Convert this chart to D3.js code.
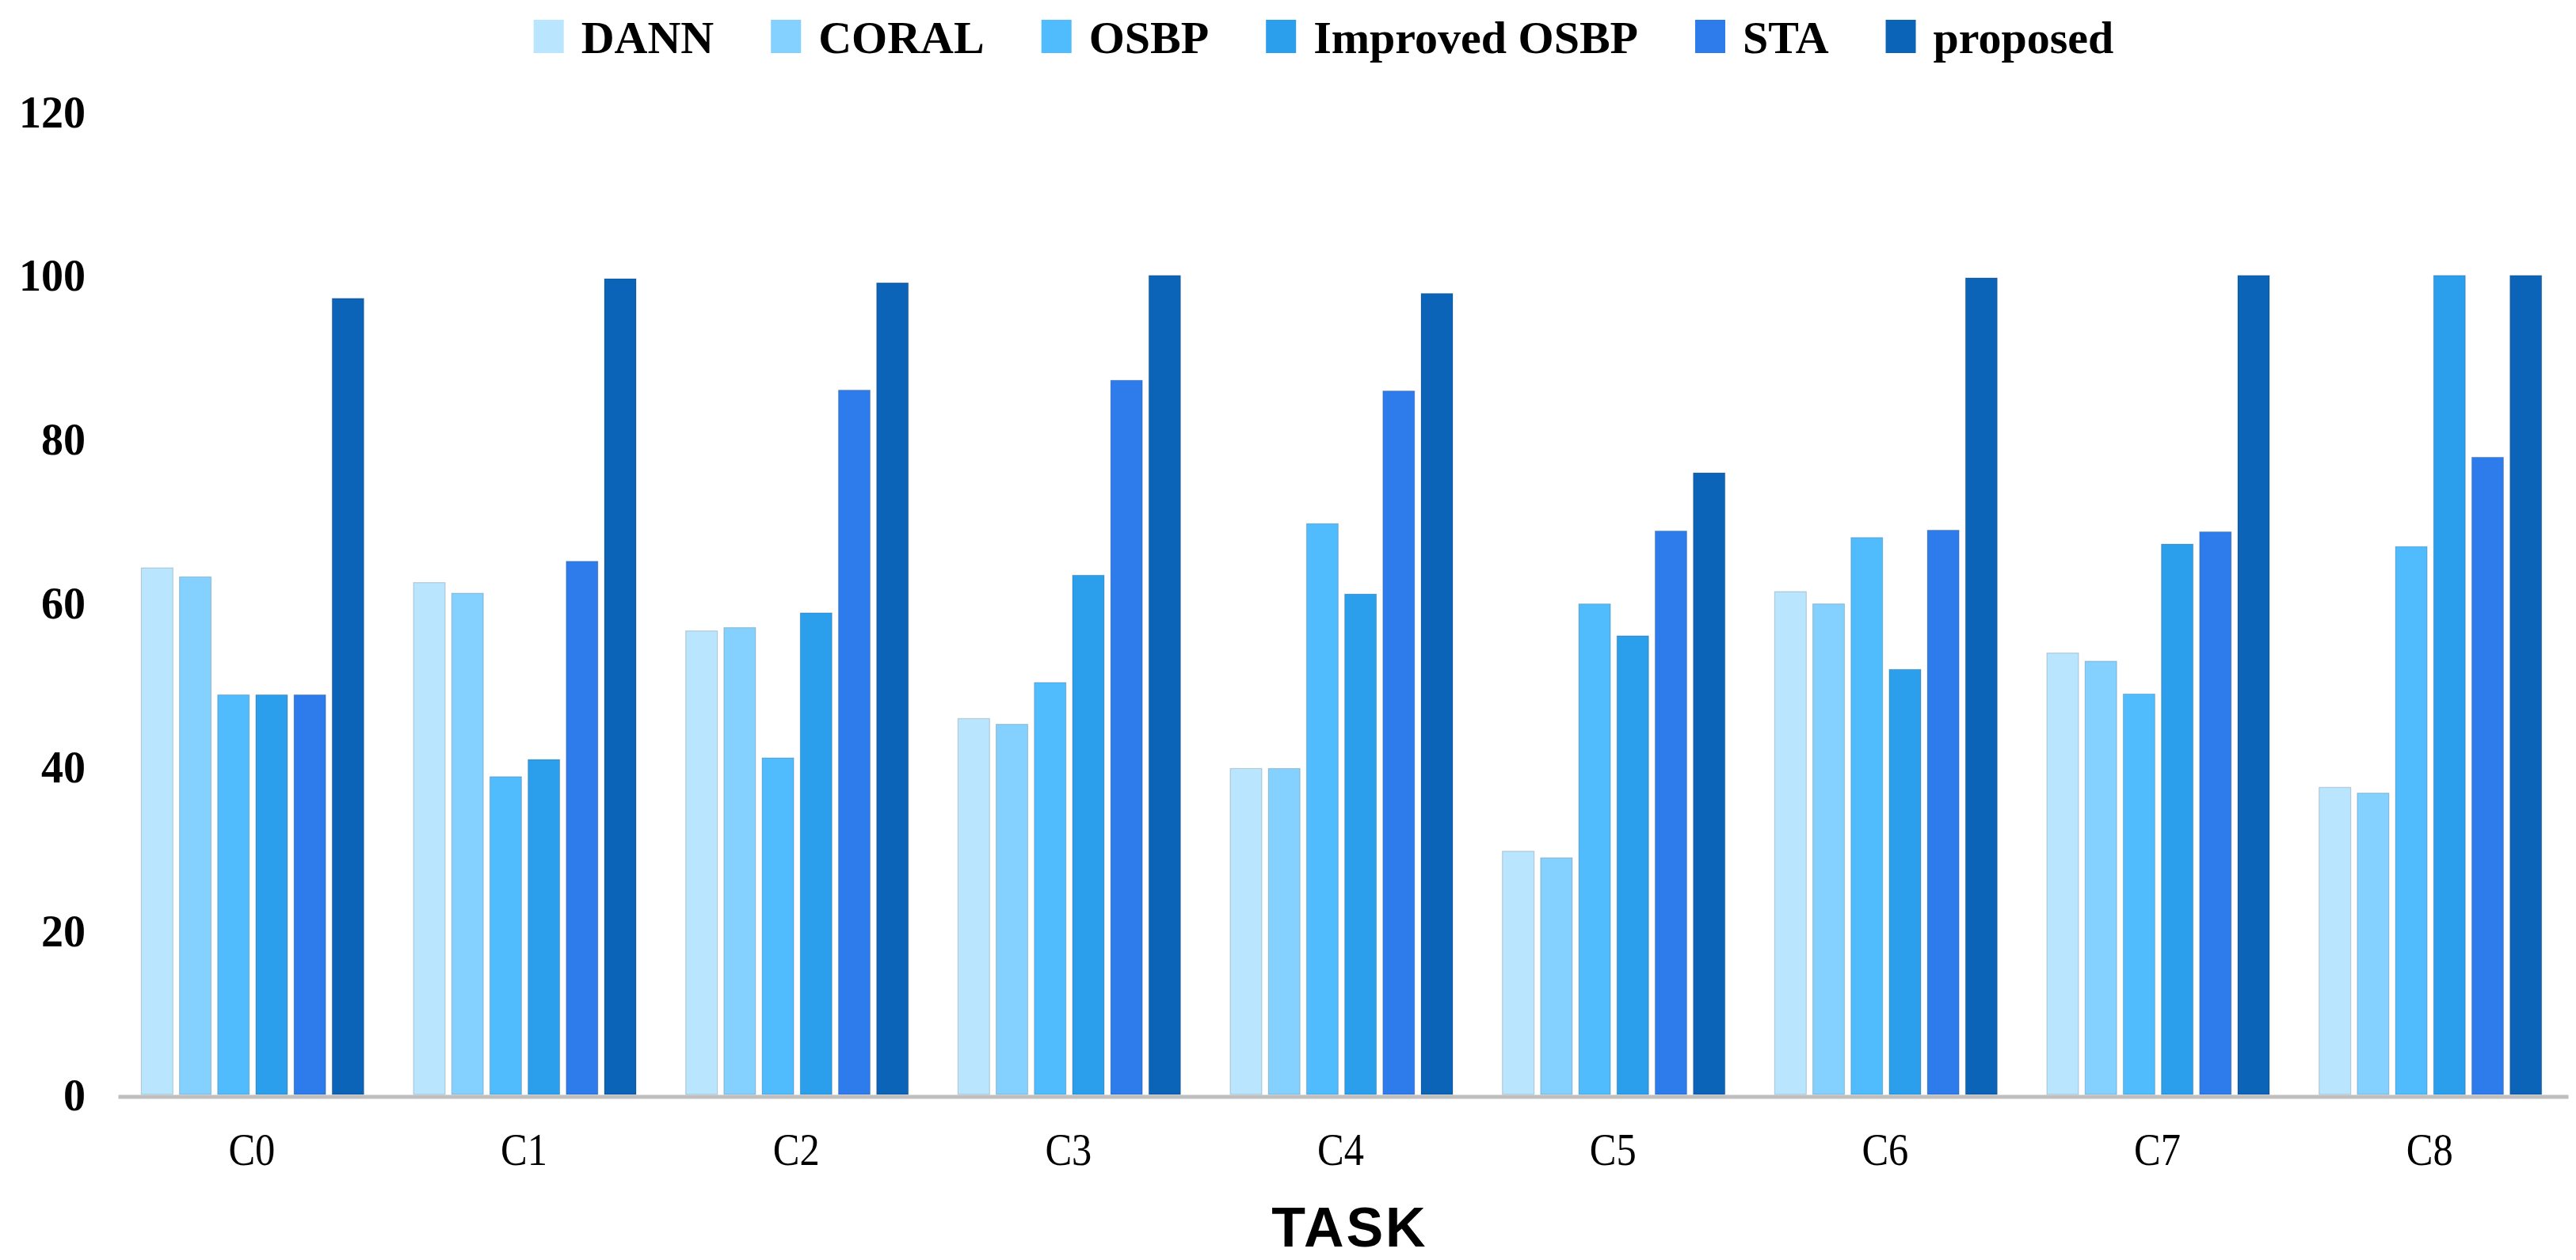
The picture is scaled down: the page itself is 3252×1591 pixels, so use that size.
<!DOCTYPE html>
<html>
<head>
<meta charset="utf-8">
<script src="https://cdn.jsdelivr.net/npm/d3@7"></script>
<style>
  html, body { margin: 0; padding: 0; background: #ffffff; }
  svg { display: block; }
</style>
</head>
<body>
<svg id="chart" width="3252" height="1591"></svg>
<script>
// ---- data ----
const categories = ["C0", "C1", "C2", "C3", "C4", "C5", "C6", "C7", "C8"];
const seriesNames = ["DANN", "CORAL", "OSBP", "Improved OSBP", "STA", "proposed"];
const DANN      = [64.3, 62.5, 56.6, 45.9, 39.8, 29.7, 61.4, 53.9, 37.5];
const CORAL     = [63.2, 61.2, 57.0, 45.2, 39.8, 28.9, 59.9, 52.9, 36.8];
const OSBP      = [48.8, 38.8, 41.1, 50.3, 69.7, 59.9, 68.0, 48.9, 66.9];
const ImprovedOSBP = [48.8, 40.9, 58.8, 63.4, 61.1, 56.0, 51.9, 67.2, 100.0];
const STA       = [48.8, 65.1, 86.0, 87.2, 85.9, 68.8, 68.9, 68.7, 77.8];
const proposed  = [97.2, 99.6, 99.1, 100.0, 97.8, 75.9, 99.7, 100.0, 100.0];
const yTicks = [0, 20, 40, 60, 80, 100, 120];
const xTitle = "TASK";

const seriesValues = [DANN, CORAL, OSBP, ImprovedOSBP, STA, proposed];
const colors = ["#b9e5fe", "#84d0fe", "#50bcfe", "#2b9eec", "#2e7cec", "#0b64b8"];

// ---- layout ----
const svg = d3.select("#chart");
const plotLeft = 149, plotRight = 3242, plotTop = 141, plotBottom = 1382;

const x0 = d3.scaleBand().domain(categories).range([plotLeft, plotRight]).paddingInner(0).paddingOuter(0);
const groupW = 281;
const x1 = d3.scaleBand().domain(seriesNames).range([0, groupW]).paddingInner(0.17).paddingOuter(0);
const y = d3.scaleLinear().domain([0, 120]).range([plotBottom, plotTop]);
const groupOffset = (x0.bandwidth() - groupW) / 2 - 2;

const table = categories.map((c, i) => ({
  cat: c,
  vals: seriesNames.map((s, j) => ({ series: s, value: seriesValues[j][i], color: colors[j] }))
}));

// bars
const groups = svg.append("g").selectAll("g.grp")
  .data(table).join("g")
  .attr("class", "grp")
  .attr("transform", d => `translate(${x0(d.cat) + groupOffset},0)`);

groups.selectAll("rect")
  .data(d => d.vals).join("rect")
  .attr("x", d => x1(d.series))
  .attr("width", x1.bandwidth())
  .attr("y", d => y(d.value))
  .attr("height", d => y(0) - y(d.value))
  .attr("fill", d => d.color)
  .attr("stroke", "rgba(0,0,0,0.16)")
  .attr("stroke-width", 1.2);

// y axis
const yAxis = svg.append("g")
  .attr("transform", `translate(108,0)`)
  .call(d3.axisLeft(y).tickValues(yTicks).tickSize(0).tickPadding(0));
yAxis.select(".domain").remove();
yAxis.selectAll("text")
  .attr("font-family", "'Liberation Serif', 'Times New Roman', serif")
  .attr("font-weight", "bold")
  .attr("font-size", 56)
  .attr("fill", "#000")
  .attr("x", 0)
  .attr("dy", "0.34em");

// x axis
const xAxis = svg.append("g")
  .attr("transform", `translate(0,${plotBottom + 2.5})`)
  .call(d3.axisBottom(x0).tickSize(0).tickSizeOuter(0).tickPadding(0));
xAxis.select(".domain")
  .attr("stroke", "#bfbfbf")
  .attr("stroke-width", 5);
xAxis.selectAll(".tick")
  .attr("transform", d => `translate(${x0(d) + x0.bandwidth() / 2 - 3},0)`);
xAxis.selectAll("text")
  .attr("font-family", "'Liberation Serif', 'Times New Roman', serif")
  .attr("font-size", 58)
  .attr("fill", "#000")
  .attr("y", 1471 - (plotBottom + 2.5))
  .attr("dy", 0)
  .attr("transform", "scale(0.87,1)");

// x title
svg.append("text")
  .attr("x", 1704)
  .attr("y", 1574)
  .attr("text-anchor", "middle")
  .attr("font-family", "'Liberation Sans', Arial, sans-serif")
  .attr("font-weight", "bold")
  .attr("font-size", 70)
  .attr("letter-spacing", 3)
  .attr("fill", "#000")
  .text(xTitle);

// legend
const legend = svg.append("g");
const swW = 38, swH = 42, swGap = 22, itemGap = 72;
const items = legend.selectAll("g.item").data(seriesNames).join("g").attr("class", "item");
items.append("rect")
  .attr("width", swW).attr("height", swH)
  .attr("y", 25)
  .attr("fill", (d, i) => colors[i]);
items.append("text")
  .attr("x", swW + swGap)
  .attr("y", 67)
  .attr("font-family", "'Liberation Serif', 'Times New Roman', serif")
  .attr("font-weight", "bold")
  .attr("font-size", 58)
  .attr("fill", "#000")
  .text(d => d);
let cursor = 0;
const offsets = [];
items.each(function () {
  const w = d3.select(this).select("text").node().getComputedTextLength();
  offsets.push(cursor);
  cursor += swW + swGap + w + itemGap;
});
const totalW = cursor - itemGap;
const startX = 1671 - totalW / 2;
items.attr("transform", (d, i) => `translate(${startX + offsets[i]},0)`);
</script>
</body>
</html>
